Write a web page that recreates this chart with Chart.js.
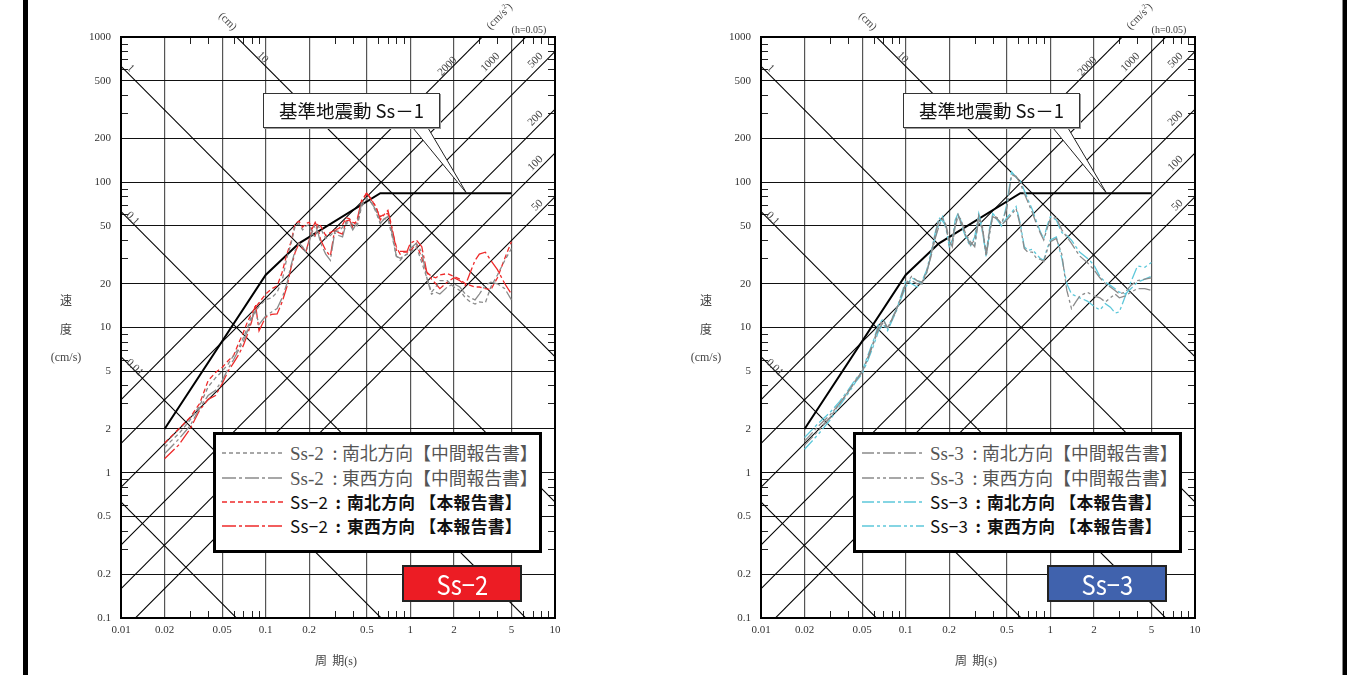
<!DOCTYPE html>
<html>
<head>
<meta charset="utf-8">
<script src="https://cdn.jsdelivr.net/npm/chart.js@4.4.1/dist/chart.umd.min.js"></script>
<style>
  body { margin: 0; background: #fff; width: 1347px; height: 675px; position: relative; overflow: hidden; font-family: "Noto Sans CJK JP", sans-serif; }
  .bar { position: absolute; top: 0; height: 675px; background: #000; }
  .panel { position: absolute; top: 0; width: 640px; height: 675px; }
  .panel canvas { position: absolute; left: 0; top: 0; }
  .lbl { position: absolute; white-space: nowrap; font-family: "Liberation Serif", serif; color: #444; font-size: 11px; line-height: 1; transform: translate(-50%, -50%); }
  .callout { position: absolute; left: 263px; top: 93px; width: 177px; height: 35px; box-sizing: border-box; border: 1px solid #333; background: #fff; box-shadow: 1px 1px 0 #999; font-size: 18.5px; line-height: 33px; text-align: center; color: #111; }
  .legend { position: absolute; left: 213px; top: 432px; width: 329px; height: 121px; box-sizing: border-box; border: 3px solid #000; background: #fff; }
  .legend svg { position: absolute; left: 6px; }
  .legend .row { position: absolute; left: 74px; white-space: nowrap; line-height: 1; transform: translateY(-50%); }
  .legend .pre { display: inline-block; }
  .legend .col { display: inline-block; text-align: center; }
  .badge { position: absolute; top: 565px; width: 120px; height: 37px; box-sizing: border-box; border: 2px solid #222; color: #fff; font-size: 27px; line-height: 33px; text-align: center; }
  .badge span { display: inline-block; transform: scaleX(0.88); }
</style>
</head>
<body>
<div class="bar" style="left:23px;width:5px"></div>
<div class="bar" style="left:1342px;width:1px;background:#888"></div>
<div class="bar" style="left:1343px;width:4px"></div>
<div class="panel" id="p0" style="left:0px"><canvas id="c0" width="640" height="675"></canvas></div>
<div class="panel" id="p1" style="left:640px"><canvas id="c1" width="640" height="675"></canvas></div>
<script>
// 周期 (s)
const periods = [0.02,0.025,0.03,0.035,0.04,0.045,0.05,0.055,0.06,0.065,
  0.07,0.075,0.08,0.085,0.09,0.1,0.11,0.12,0.13,0.14,
  0.15,0.16,0.17,0.18,0.19,0.2,0.21,0.22,0.23,0.24,
  0.26,0.28,0.3,0.32,0.34,0.36,0.38,0.4,0.43,0.46,
  0.5,0.54,0.58,0.62,0.66,0.7,0.75,0.8,0.85,0.9,
  0.95,1.0,1.1,1.2,1.3,1.4,1.5,1.6,1.8,2.0,
  2.2,2.4,2.6,2.8,3.0,3.3,3.6,4.0,4.5,5.0];

// 基準地震動 Ss-1
const ss1Periods = [0.02, 0.1, 0.17, 0.62, 5];
const ss1Vel = [2.0, 23, 38, 84, 84];

// Ss-2 (cm/s)
const ss2NsMid = [1.5,1.85,2.3,2.9,3.9,4.5,5.0,5.6,6.4,7.2, 8.5,10,12,13,14,15.5,16,17.5,21,30,
  38,50,52,47,50,51,44,42,50,48, 41,43,46,46,49,53,54,51,50,68,
  77,72,62,52,56,56,42,31,29,31, 32,33,36,28,22,17.5,19,21,21,19,
  18,16,15,14.5,15,14.8,19,23,29,35];
const ss2EwMid = [1.35,1.7,2.1,2.8,3.4,3.7,4.3,5.2,6.0,7.0, 8.0,9.5,11.5,13,10.5,12,12.8,13.5,16,20,
  27,34,38,36,33,39,46,51,45,38, 32,29,45,43,42,52,52,47,53,71,
  78,72,64,52,56,58,44,31,30,31, 32,35,38,33,22,17,17.5,17,19,20,
  19,17,16,15.5,17,19.5,20.5,20,18.5,15.5];
const ss2NsHon = [1.6,2.0,2.4,3.0,4.3,4.9,5.3,5.9,6.4,7.8, 9.2,11.0,12.5,13.8,14.8,17.0,18.5,19.3,24,32,
  39,52,54,49,52,53,46,43,52,50, 43,45,47,48,51,57,56,53,52,72,
  85,76,66,58,60,61,46,36,32,33, 33,33.5,38,30,24,22.5,22,23,23.5,22.5,
  21.5,20,19.5,19,19,18.5,18.2,22,30,39];
const ss2EwHon = [1.25,1.55,2.0,2.7,3.2,3.4,4.1,5.0,5.7,6.5, 7.5,9.0,11,14.5,9.5,11.8,12.3,12.4,15,19,
  26,33,38,35,33.5,40,48,53,48,40, 34,31,47,45,44,54,55,49,56,75,
  84,75,68,55,60,64,48,34,33.5,33.4, 33.5,38,40,36,24,21.5,20,18.5,20.5,22,
  21,19.5,24,29,32,33,29,25,20,17];

// Ss-3 (cm/s)
const ss3NsMid = [1.65,2.1,2.5,3.0,3.6,4.3,5.0,6.3,8.0,10.2, 11.2,10,11.2,12.8,14.8,20,21,20,20,24,
  32,44,55,56,51,40,36,50,58,56, 44,39,36,56,47,33,46,58,56,52,
  66,112,110,98,84,73,62,52,45,40, 48,56,57,47,42,38,34,31,28,25,
  22,20,19,18,17,17.5,19.5,21,21.5,22];
const ss3EwMid = [1.55,1.95,2.4,3.0,3.6,4.3,4.9,6.2,7.8,9.8, 10.8,9.8,11.3,12.8,14.8,20,22.5,21,20.5,24.5,
  31,41,50,56,50,37,39,53,60,53, 43,37,40,59,49,31,44,59,57,51,
  55,60,66,50,35,33,33,30,29.5,28.5, 34,39,41,32,18,13.5,15,16.5,17.5,16.5,
  16,15,16,17,16,16.5,17.5,18.5,18.5,18];
const ss3NsHon = [1.75,2.2,2.6,3.1,3.7,4.4,5.0,6.5,8.2,10.5, 11.5,9.8,11.5,13,15,21,20,19,21,25,
  33,45,57,54,50,38,37,52,60,55, 43,38,37,58,45,32,48,60,55,50,
  70,118,108,102,88,76,65,54,46,41, 50,58,55,45,43,40,36,33,30,27,
  22.5,20.5,19.5,18.5,17.5,17,18.5,20.5,21.5,22.5];
const ss3EwHon = [1.45,1.85,2.3,2.9,3.5,4.2,4.8,6.0,7.5,9.5, 10.5,9.5,11,12.5,14.5,19,22,21,20,24,
  32,42,52,58,48,36,40,55,61,52, 42,36,42,61,48,30.5,45,61,56,50,
  57,62,68,52,36,34,34.5,32,30,29, 35,40,42,30,20,17,16.5,16,15.2,14,
  13.2,14.6,13.8,12.6,12.8,16.5,20.5,26.5,26,28];

// 三軸図の補助線 (変位 cm, 加速度 cm/s2)
const dispLines = [0.001, 0.01, 0.1, 1, 10];
const accelLines = [50, 100, 200, 500, 1000, 2000];

const xTickVals = [0.01,0.02,0.05,0.1,0.2,0.5,1,2,5,10];
const xTickLabels = ['0.01','0.02','0.05','0.1','0.2','0.5','1','2','5','10'];
const yTickVals = [0.1,0.2,0.5,1,2,5,10,20,50,100,200,500,1000];
const yTickLabels = ['0.1','0.2','0.5','1','2','5','10','20','50','100','200','500','1000'];

const GRAY = '#8a8a8a', RED = '#ee2a2a', CYAN = '#5ec8da';

const panels = [
  { id: 0, badge: 'Ss−2', badgeColor: '#ec1c24', badgeLeft: 402,
    series: [
      { pre: 'Ss-2', label: '南北方向【中間報告書】', values: ss2NsMid, color: GRAY, dash: [4, 3], mid: true },
      { pre: 'Ss-2', label: '東西方向【中間報告書】', values: ss2EwMid, color: GRAY, dash: [14, 3, 3, 3], mid: true },
      { pre: 'Ss−2', label: '南北方向 【本報告書】', values: ss2NsHon, color: RED, dash: [5, 3] },
      { pre: 'Ss−2', label: '東西方向 【本報告書】', values: ss2EwHon, color: RED, dash: [14, 3, 3, 3] }
    ] },
  { id: 1, badge: 'Ss−3', badgeColor: '#4062ad', badgeLeft: 407,
    series: [
      { pre: 'Ss-3', label: '南北方向【中間報告書】', values: ss3NsMid, color: GRAY, dash: [12, 3, 3, 3], mid: true },
      { pre: 'Ss-3', label: '東西方向【中間報告書】', values: ss3EwMid, color: GRAY, dash: [12, 3, 3, 3, 3, 3], mid: true },
      { pre: 'Ss−3', label: '南北方向 【本報告書】', values: ss3NsHon, color: CYAN, dash: [12, 3, 3, 3] },
      { pre: 'Ss−3', label: '東西方向 【本報告書】', values: ss3EwHon, color: CYAN, dash: [12, 3, 3, 3, 3, 3] }
    ] }
];

// 補助線ラベル
const lineLabels = [
  ['1', 131, 68, 45], ['10', 263, 57, 45], ['0.1', 133, 218, 45], ['0.01', 135, 367, 45],
  ['2000', 447, 66, -45], ['1000', 490, 62, -45], ['500', 535, 60, -45],
  ['200', 535, 118, -45], ['100', 535, 163, -45], ['50', 537, 205, -45]
];

const framePlugin = {
  id: 'frame',
  beforeDatasetsDraw(chart) {
    const { ctx, chartArea: a, scales: { x, y } } = chart;
    ctx.save();
    ctx.strokeStyle = '#222';
    ctx.lineWidth = 1;
    ctx.beginPath();
    [0.01, 0.1, 1].forEach(d => [3, 4, 6, 7, 8, 9].forEach(m => {
      const px = Math.round(x.getPixelForValue(d * m)) + 0.5;
      ctx.moveTo(px, a.top); ctx.lineTo(px, a.top + 7);
      ctx.moveTo(px, a.bottom); ctx.lineTo(px, a.bottom - 7);
    }));
    [0.1, 1, 10, 100].forEach(d => [3, 4, 6, 7, 8, 9].forEach(m => {
      const py = Math.round(y.getPixelForValue(d * m)) + 0.5;
      ctx.moveTo(a.left, py); ctx.lineTo(a.left + 7, py);
      ctx.moveTo(a.right, py); ctx.lineTo(a.right - 7, py);
    }));
    ctx.stroke();
    ctx.restore();
  },
  afterDatasetsDraw(chart, args, opts) {
    const { ctx, chartArea: a, scales: { x, y } } = chart;
    const p = opts.pointer;
    const tx = x.getPixelForValue(p.t), ty = y.getPixelForValue(p.v);
    ctx.save();
    ctx.fillStyle = '#fff';
    ctx.beginPath();
    ctx.moveTo(p.x1, p.yb); ctx.lineTo(tx, ty); ctx.lineTo(p.x2, p.yb); ctx.closePath();
    ctx.fill();
    ctx.strokeStyle = '#222';
    ctx.lineWidth = 1;
    ctx.beginPath();
    ctx.moveTo(p.x1, p.yb); ctx.lineTo(tx, ty); ctx.lineTo(p.x2, p.yb);
    ctx.stroke();
    ctx.lineWidth = 2;
    ctx.strokeStyle = '#000';
    ctx.strokeRect(a.left, a.top, a.right - a.left, a.bottom - a.top);
    ctx.restore();
  }
};

function pts(vals) {
  return periods.map((t, i) => ({ x: t, y: vals[i] }));
}

function makeChart(canvas, series) {
  const datasets = series.map((s, i) => ({
    label: s.pre + ' : ' + s.label, data: pts(s.values), borderColor: s.color, borderDash: s.dash,
    borderWidth: 1.3, pointRadius: 0, tension: 0, order: i
  }));
  datasets.push({
    label: 'Ss-1', data: ss1Periods.map((t, i) => ({ x: t, y: ss1Vel[i] })),
    borderColor: '#000', borderWidth: 2, pointRadius: 0, order: 5
  });
  dispLines.forEach(d => datasets.push({
    data: [0.003, 30].map(t => ({ x: t, y: 2 * Math.PI * d / t })),
    borderColor: '#000', borderWidth: 1.1, pointRadius: 0, order: 10
  }));
  accelLines.forEach(g => datasets.push({
    data: [0.003, 30].map(t => ({ x: t, y: g * t / (2 * Math.PI) })),
    borderColor: '#000', borderWidth: 1.1, pointRadius: 0, order: 10
  }));

  const tickFont = { family: '"Liberation Serif", serif', size: 11 };
  return new Chart(canvas, {
    type: 'line',
    data: { datasets },
    plugins: [framePlugin],
    options: {
      responsive: false, animation: false, events: [],
      layout: { padding: { top: 37, right: 85, left: 0, bottom: 0 } },
      plugins: {
        legend: { display: false }, tooltip: { enabled: false },
        frame: { pointer: { x1: 413, x2: 428, yb: 128, t: 2.45, v: 84 } }
      },
      scales: {
        x: {
          type: 'logarithmic', min: 0.01, max: 10,
          afterBuildTicks: s => { s.ticks = xTickVals.map(v => ({ value: v })); },
          afterFit: s => { s.height = 57; },
          grid: { color: '#555', lineWidth: 1.2, drawTicks: false },
          border: { display: false },
          ticks: { autoSkip: false, maxRotation: 0, padding: 6, color: '#333', font: tickFont,
            callback: (v, i) => xTickLabels[i] }
        },
        y: {
          type: 'logarithmic', min: 0.1, max: 1000,
          afterBuildTicks: s => { s.ticks = yTickVals.map(v => ({ value: v })); },
          afterFit: s => { s.width = 121; },
          grid: { color: '#111', lineWidth: 1.1, drawTicks: false },
          border: { display: false },
          ticks: { autoSkip: false, padding: 10, color: '#333', font: tickFont,
            callback: (v, i) => yTickLabels[i] }
        }
      }
    }
  });
}

function el(parent, cls, html, css) {
  const d = document.createElement('div');
  if (cls) d.className = cls;
  d.innerHTML = html;
  Object.assign(d.style, css || {});
  parent.appendChild(d);
  return d;
}

function makeOverlay(panel, p) {
  lineLabels.forEach(([t, x, y, r]) => el(panel, 'lbl', t,
    { left: x + 'px', top: y + 'px', transform: 'translate(-50%,-50%) rotate(' + r + 'deg)' }));
  el(panel, 'lbl', '(cm)', { left: '228px', top: '21px', fontSize: '11px', transform: 'translate(-50%,-50%) rotate(45deg)' });
  el(panel, 'lbl', '(cm/s<sup style="font-size:7px">2</sup>)', { left: '499px', top: '16px', transform: 'translate(-50%,-50%) rotate(-45deg)' });
  el(panel, 'lbl', '(h=0.05)', { left: '529px', top: '30px', fontSize: '10px' });

  el(panel, 'lbl', '速', { left: '66px', top: '300px', fontSize: '12px', fontFamily: '"Noto Sans CJK JP"' });
  el(panel, 'lbl', '度', { left: '66px', top: '329px', fontSize: '12px', fontFamily: '"Noto Sans CJK JP"' });
  el(panel, 'lbl', '(cm/s)', { left: '66px', top: '357px', fontSize: '12px' });
  el(panel, 'lbl', '周&nbsp;&nbsp;期<span style="font-family:Liberation Serif">(s)</span>',
    { left: '336px', top: '660px', fontSize: '12px', fontFamily: '"Noto Sans CJK JP"' });

  el(panel, 'callout', '基準地震動 Ss－1');

  const lg = el(panel, 'legend', '');
  const rowsY = [18, 43, 67, 91];
  p.series.forEach((s, i) => {
    const svg = '<svg width="62" height="4" style="top:' + (rowsY[i] - 2) + 'px"><line x1="0" y1="2" x2="62" y2="2" stroke="' +
      s.color + '" stroke-width="1.6" stroke-dasharray="' + s.dash.join(',') + '"/></svg>';
    lg.insertAdjacentHTML('beforeend', svg);
    let html, css;
    if (s.mid) {
      html = '<span class="pre" style="width:38px;font-family:\'Liberation Serif\',serif;font-size:19px">' + s.pre +
        '</span><span class="col" style="width:14px">:</span>' + s.label;
      css = { top: rowsY[i] + 'px', fontSize: '17.8px', color: '#555', fontWeight: '400' };
    } else {
      html = '<span class="pre" style="width:40px;font-weight:400;font-size:17px">' + s.pre +
        '</span><span class="col" style="width:17px">:</span>' + s.label;
      css = { top: rowsY[i] + 'px', fontSize: '16.8px', color: '#111', fontWeight: '700', letterSpacing: '0.3px' };
    }
    el(lg, 'row', html, css);
  });

  el(panel, 'badge', '<span>' + p.badge + '</span>', { left: p.badgeLeft + 'px', background: p.badgeColor });
}

panels.forEach(p => {
  makeChart(document.getElementById('c' + p.id), p.series);
  makeOverlay(document.getElementById('p' + p.id), p);
});
</script>
</body>
</html>
